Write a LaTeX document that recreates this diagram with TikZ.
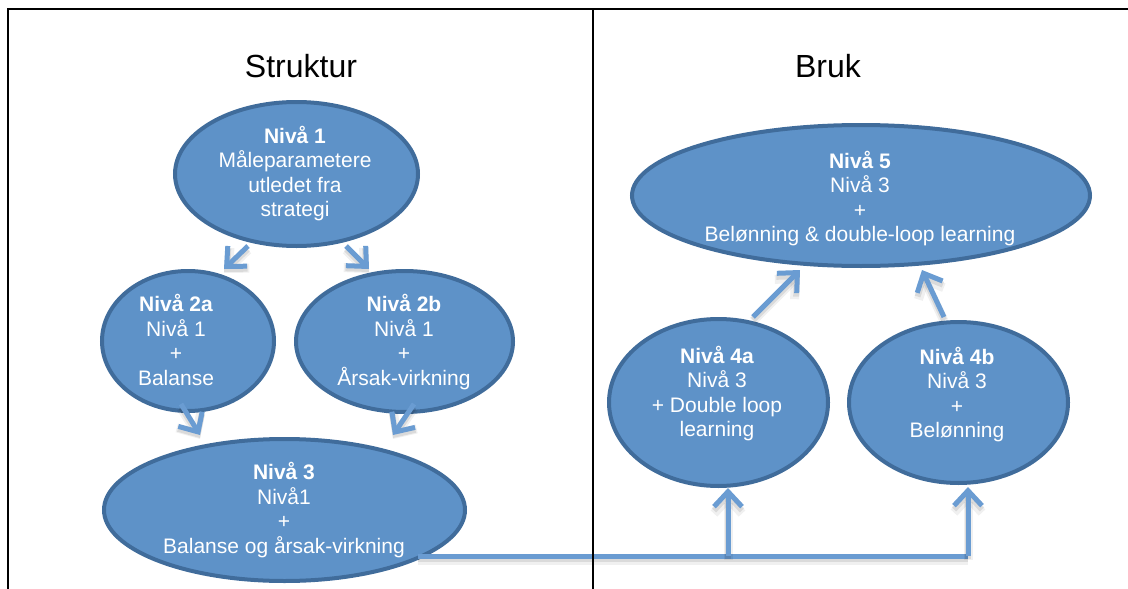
\documentclass[tikz,border=0pt]{standalone}
\usepackage{fontspec}
\setmainfont{Liberation Sans}
\usetikzlibrary{shapes.geometric,arrows.meta}
\definecolor{blobfill}{RGB}{94,146,200}
\definecolor{blobline}{RGB}{64,108,155}
\definecolor{arrowblue}{RGB}{106,156,210}
\begin{document}
\begin{tikzpicture}[x=1pt,y=-1pt,
  blob/.style={ellipse, draw=blobline, fill=blobfill, line width=4pt, inner sep=0pt},
  txt/.style={text=white, align=center, inner sep=0pt,
    font=\fontsize{21}{24.5}\selectfont,
    execute at begin node=\strut, execute at end node=\strut},
  title/.style={font=\fontsize{32}{36}\selectfont, anchor=base, inner sep=0pt},
  softshadow/.style={
    preaction={draw=black, opacity=0.06, line width=9pt,
      transform canvas={yshift=-4pt}},
    preaction={draw=black, opacity=0.09, line width=6pt,
      transform canvas={yshift=-3pt}}},
  link/.style={draw=arrowblue, line width=5pt, softshadow},
  arr/.style={link, -{Straight Barb[length=15pt,width=28pt]}},
  frame/.style={draw=black, line width=2pt}]
\useasboundingbox (0,0) rectangle (1128,589);

% column titles
\node[title] (tstruct) at (301,77) {Struktur};
\node[title] (tbruk) at (828,77) {Bruk};

% level ellipses
\node[blob, minimum width=243pt, minimum height=144pt] (n1)  at (296.5,174) {};
\node[blob, minimum width=172pt, minimum height=140pt] (n2a) at (188,341) {};
\node[blob, minimum width=217pt, minimum height=141pt] (n2b) at (404.5,341.5) {};
\node[blob, minimum width=361pt, minimum height=142pt] (n3)  at (284.5,510) {};
\node[blob, minimum width=458pt, minimum height=141pt] (n5)  at (861,195.5) {};
\node[blob, minimum width=219pt, minimum height=167pt] (n4a) at (718.5,402.5) {};
\node[blob, minimum width=219pt, minimum height=161pt] (n4b) at (958.5,402.5) {};

% texts
\node[txt] (t1)  at (295,175)   {\textbf{Nivå 1}\\Måleparametere\\utledet fra\\strategi};
\node[txt] (t2a) at (176,343.6) {\textbf{Nivå 2a}\\Nivå 1\\+\\Balanse};
\node[txt] (t2b) at (404,343.6) {\textbf{Nivå 2b}\\Nivå 1\\+\\Årsak-virkning};
\node[txt] (t3)  at (284,511.6) {\textbf{Nivå 3}\\Nivå1\\+\\Balanse og årsak-virkning};
\node[txt] (t5)  at (860,200)   {\textbf{Nivå 5}\\Nivå 3\\+\\Belønning \& double-loop learning};
\node[txt] (t4a) at (717,395)   {\textbf{Nivå 4a}\\Nivå 3\\+ Double loop\\learning};
\node[txt] (t4b) at (957,396)   {\textbf{Nivå 4b}\\Nivå 3\\+\\Belønning};

% arrow end points on the ellipse rims
\coordinate (a1s) at (248,246); \coordinate (a1e) at (224,269);
\coordinate (a2s) at (346,246); \coordinate (a2e) at (369,269);
\coordinate (a3s) at (181,404); \coordinate (a3e) at (200,435);
\coordinate (a4s) at (414,404); \coordinate (a4e) at (393,435);
\coordinate (a5s) at (753,317); \coordinate (a5e) at (800,270);
\coordinate (a6s) at (944,317); \coordinate (a6e) at (922,270);
\coordinate (hs)  at (418,556);
\coordinate (ja)  at (728,556); \coordinate (jae) at (728,488);
\coordinate (jb)  at (968,556); \coordinate (jbe) at (968,487);

\draw[arr] (a1s) -- (a1e);
\draw[arr] (a2s) -- (a2e);
\draw[arr] (a3s) -- (a3e);
\draw[arr] (a4s) -- (a4e);
\draw[arr] (a5s) -- (a5e);
\draw[arr] (a6s) -- (a6e);
\draw[link] (hs) -- (jb);
\draw[arr] (ja) -- (jae);
\draw[arr] (jb) -- (jbe);

% table frame
\draw[frame] (7,8.5) -- (1128,8.5);
\draw[frame] (8,8) -- (8,589);
\draw[frame] (593,8) -- (593,589);
\end{tikzpicture}
\end{document}
